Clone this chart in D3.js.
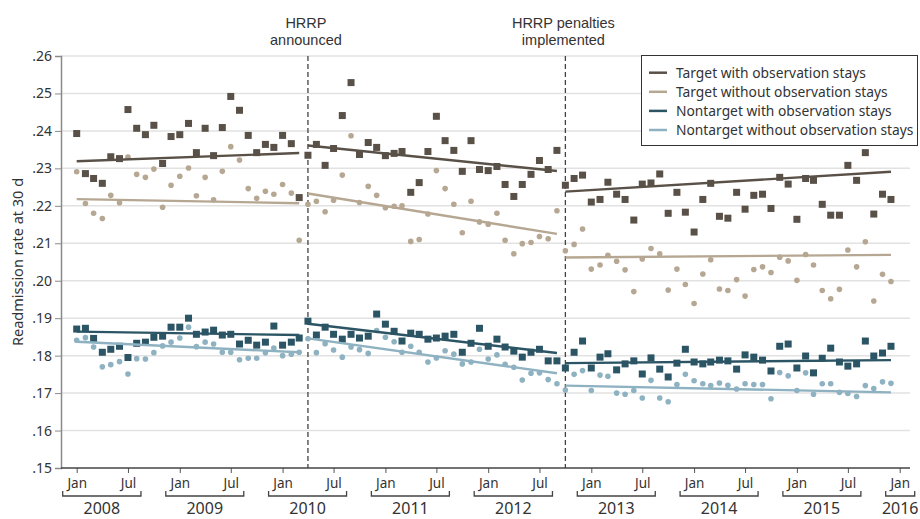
<!DOCTYPE html>
<html>
<head>
<meta charset="utf-8">
<script src="https://cdn.jsdelivr.net/npm/d3@7"></script>
<style>
  body { margin: 0; background: white; }
  text { font-family: "Noto Sans", "Liberation Sans", Arial, sans-serif; fill: #333; }
</style>
</head>
<body>
<div id="viz-container"></div>
<script>
let w = 920;
let h = 519;

// monthly rates, Jan 2008 .. Dec 2015
let targetWith = [
  .2393,.2286,.2273,.2260,.2331,.2326,.2457,.2407,.2390,.2415,.2313,.2385,.2390,.2420,.2342,.2407,.2334,.2409,.2492,.2455,.2388,.2342,.2364,.2356,.2388,.2366,.2222,
  .2335,.2364,.2308,.2353,.2441,.2529,.2337,.2369,.2356,.2334,.2340,.2345,.2236,.2262,.2345,.2439,.2374,.2348,.2292,.2374,.2297,.2294,.2305,.2257,.2225,.2257,.2284,.2321,.2297,.2348,
  .2255,.2273,.2282,.2210,.2217,.2263,.2231,.2217,.2162,.2258,.2261,.2285,.2180,.2236,.2183,.2130,.2217,.2260,.2172,.2167,.2236,.2191,.2228,.2231,.2193,.2276,.2258,.2164,.2273,.2268,.2204,.2175,.2175,.2308,.2268,.2342,.2178,.2231,.2217
];
let targetWithout = [
  .2291,.2206,.2180,.2166,.2228,.2208,.2330,.2284,.2276,.2298,.2196,.2255,.2279,.2301,.2227,.2276,.2216,.2292,.2358,.2322,.2246,.2220,.2239,.2231,.2257,.2234,.2108,
  .2204,.2212,.2184,.2215,.2282,.2387,.2209,.2252,.2228,.2195,.2199,.2200,.2105,.2110,.2178,.2294,.2246,.2204,.2128,.2212,.2157,.2151,.2180,.2108,.2072,.2099,.2102,.2118,.2112,.2187,
  .2080,.2097,.2138,.2031,.2042,.2068,.2052,.2029,.1971,.2058,.2086,.2072,.1975,.2031,.1990,.1939,.2018,.2056,.1978,.1974,.2003,.1959,.2030,.2037,.2022,.2063,.2053,.2001,.2070,.2042,.1974,.1952,.1977,.2082,.2037,.2104,.1946,.2017,.1998
];
let nontargetWith = [
  .1871,.1873,.1846,.1809,.1817,.1825,.1795,.1833,.1836,.1849,.1852,.1876,.1876,.1900,.1857,.1863,.1868,.1855,.1857,.1831,.1841,.1828,.1836,.1879,.1828,.1836,.1847,
  .1892,.1855,.1876,.1857,.1844,.1857,.1847,.1852,.1911,.1884,.1865,.1839,.1860,.1857,.1844,.1847,.1852,.1857,.1809,.1833,.1873,.1825,.1844,.1823,.1812,.1796,.1809,.1817,.1786,.1786,
  .1767,.1809,.1839,.1767,.1796,.1805,.1762,.1778,.1786,.1751,.1794,.1764,.1743,.1780,.1817,.1783,.1778,.1783,.1788,.1786,.1764,.1802,.1796,.1788,.1759,.1825,.1831,.1767,.1799,.1754,.1793,.1820,.1783,.1772,.1778,.1839,.1799,.1807,.1825
];
let nontargetWithout = [
  .1841,.1848,.1823,.1770,.1776,.1784,.1751,.1792,.1791,.1808,.1826,.1836,.1847,.1876,.1824,.1836,.1831,.1809,.1809,.1789,.1793,.1793,.1808,.1820,.1800,.1804,.1809,
  .1845,.1808,.1832,.1815,.1796,.1823,.1816,.1806,.1867,.1849,.1837,.1809,.1825,.1809,.1783,.1794,.1813,.1804,.1778,.1783,.1817,.1791,.1802,.1777,.1769,.1735,.1753,.1754,.1736,.1725,
  .1708,.1750,.1760,.1707,.1748,.1745,.1700,.1697,.1707,.1687,.1734,.1687,.1677,.1723,.1750,.1733,.1725,.1720,.1727,.1721,.1711,.1725,.1723,.1723,.1685,.1755,.1746,.1707,.1754,.1697,.1725,.1725,.1702,.1699,.1691,.1720,.1712,.1730,.1726
];

// fitted trend lines: [start, end] value for each period
let targetWithTrend = [[.2319,.2341],[.2361,.2293],[.2238,.2291]];
let targetWithoutTrend = [[.2218,.2207],[.2233,.2125],[.2062,.2069]];
let nontargetWithTrend = [[.1864,.1855],[.1885,.1807],[.1780,.1788]];
let nontargetWithoutTrend = [[.1837,.1809],[.1846,.1753],[.1720,.1702]];

// periods: first and last month of each segment
let periods = [["2008-01","2010-03"],["2010-04","2012-09"],["2012-10","2015-12"]];
let events = [
  {date: "2010-04", lines: ["HRRP", "announced"]},
  {date: "2012-10", lines: ["HRRP penalties", "implemented"]}
];

let seriesNames = ["Target with observation stays","Target without observation stays","Nontarget with observation stays","Nontarget without observation stays"];
let yTicks = [.15,.16,.17,.18,.19,.20,.21,.22,.23,.24,.25,.26];
let years = [2008,2009,2010,2011,2012,2013,2014,2015,2016];

let parseMonth = d3.timeParse("%Y-%m");
let months = d3.timeMonth.range(new Date(2008,0,1), new Date(2016,0,1));
console.log("months", months.length, targetWith.length, targetWithout.length, nontargetWith.length, nontargetWithout.length);

let series = [
  {name: seriesNames[0], values: targetWith, trend: targetWithTrend, color: "#595047", lineColor: "#595047", shape: "square"},
  {name: seriesNames[1], values: targetWithout, trend: targetWithoutTrend, color: "#b6a792", lineColor: "#b6a792", shape: "dot"},
  {name: seriesNames[2], values: nontargetWith, trend: nontargetWithTrend, color: "#2b5464", lineColor: "#2b5464", shape: "square"},
  {name: seriesNames[3], values: nontargetWithout, trend: nontargetWithoutTrend, color: "#8eb2c1", lineColor: "#8eb2c1", shape: "dot"}
];

let plotLeft = 61, plotRight = 910, plotTop = 56, plotBottom = 468;
let font = "'Noto Sans', 'Liberation Sans', Arial, sans-serif";

let x = d3.scaleTime()
  .domain([new Date(2008,0,1), new Date(2016,0,1)])
  .range([76.7, 899.7]);
let y = d3.scaleLinear()
  .domain([.15, .26])
  .range([plotBottom, plotTop]);

let viz = d3.select("#viz-container")
  .append("svg")
    .attr("width", w)
    .attr("height", h)
    .style("background-color", "white");

// gridlines
viz.append("g")
  .selectAll("line")
  .data(yTicks.slice(1))
  .enter()
  .append("line")
    .attr("x1", plotLeft)
    .attr("x2", plotRight)
    .attr("y1", d => y(d))
    .attr("y2", d => y(d))
    .attr("stroke", "#e2e2e2")
    .attr("stroke-width", 1.5);

// y axis
let yAxis = d3.axisLeft(y)
  .tickValues(yTicks)
  .tickSize(6)
  .tickPadding(3)
  .tickFormat(d => d3.format(".2f")(d).replace(/^0/, ""));
let yAxisGroup = viz.append("g")
  .attr("transform", "translate(" + plotLeft + ",0)")
  .call(yAxis);
yAxisGroup.select(".domain").attr("stroke", "#8a8a8a").attr("stroke-width", 1.5);
yAxisGroup.selectAll(".tick line").attr("stroke", "#8a8a8a");
yAxisGroup.selectAll("text")
  .style("font-size", "14px")
  .style("font-family", font)
  .attr("fill", "#333");

viz.append("text")
  .attr("transform", "translate(23," + ((plotTop + plotBottom) / 2) + ") rotate(-90)")
  .attr("text-anchor", "middle")
  .style("font-size", "14.5px")
  .text("Readmission rate at 30 d");

// x axis
let xTickDates = d3.timeMonth.every(6).range(new Date(2008,0,1), new Date(2016,0,2));
let xAxis = d3.axisBottom(x)
  .tickValues(xTickDates)
  .tickSize(5)
  .tickPadding(5)
  .tickFormat(d3.timeFormat("%b"));
let xAxisGroup = viz.append("g")
  .attr("transform", "translate(0," + plotBottom + ")")
  .call(xAxis);
xAxisGroup.select(".domain").remove();
xAxisGroup.selectAll(".tick line").attr("stroke", "#555");
xAxisGroup.selectAll("text")
  .style("font-size", "13.5px")
  .style("font-family", font)
  .attr("fill", "#333");
viz.append("line")
  .attr("x1", plotLeft)
  .attr("x2", plotRight)
  .attr("y1", plotBottom)
  .attr("y2", plotBottom)
  .attr("stroke", "#444")
  .attr("stroke-width", 1.5);

// year brackets
let yearGroups = viz.append("g").selectAll("g")
  .data(years)
  .enter()
  .append("g");

function bracketStart(yr){
  return x(new Date(yr,0,1)) - 14;
}
function bracketEnd(yr){
  if (yr == 2016) return x(new Date(yr,0,1)) + 15;
  return x(new Date(yr,6,1)) + 13;
}
yearGroups.append("path")
  .attr("d", d => "M" + bracketStart(d) + ",491 V496 H" + bracketEnd(d) + " V491")
  .attr("fill", "none")
  .attr("stroke", "#444")
  .attr("stroke-width", 1.3);
yearGroups.append("text")
  .attr("x", d => (bracketStart(d) + bracketEnd(d)) / 2)
  .attr("y", 514)
  .attr("text-anchor", "middle")
  .style("font-size", "16px")
  .text(d => d);

// event lines
let eventGroups = viz.append("g").selectAll("g")
  .data(events)
  .enter()
  .append("g");
eventGroups.append("line")
  .attr("x1", d => x(parseMonth(d.date)))
  .attr("x2", d => x(parseMonth(d.date)))
  .attr("y1", plotTop)
  .attr("y2", plotBottom)
  .attr("stroke", "#444")
  .attr("stroke-width", 1.3)
  .attr("stroke-dasharray", "5,3");
eventGroups.selectAll("text")
  .data(d => d.lines.map((t, i) => ({t: t, i: i, date: d.date})))
  .enter()
  .append("text")
    .attr("x", d => x(parseMonth(d.date)) - 2)
    .attr("y", d => 28 + d.i * 16.8)
    .attr("text-anchor", "middle")
    .style("font-family", "'Liberation Sans', Arial, sans-serif")
    .style("font-size", "14.5px")
    .text(d => d.t);

// trend lines
function trendSegments(s){
  return periods.map((p, i) => ({
    x1: x(parseMonth(p[0])), x2: x(parseMonth(p[1])),
    y1: y(s.trend[i][0]), y2: y(s.trend[i][1]),
    color: s.lineColor
  }));
}

// points
series.forEach(function(s){
  let g = viz.append("g");
  let pts = s.values.map((v, i) => ({date: months[i], value: v}));
  if (s.shape == "square"){
    g.selectAll("rect")
      .data(pts)
      .enter()
      .append("rect")
        .attr("x", d => x(d.date) - 3.5)
        .attr("y", d => y(d.value) - 3.5)
        .attr("width", 7)
        .attr("height", 7)
        .attr("fill", s.color);
  } else {
    g.selectAll("circle")
      .data(pts)
      .enter()
      .append("circle")
        .attr("cx", d => x(d.date))
        .attr("cy", d => y(d.value))
        .attr("r", 2.8)
        .attr("fill", s.color);
  }
});

series.forEach(function(s){
  viz.append("g").selectAll("line")
    .data(trendSegments(s))
    .enter()
    .append("line")
      .attr("x1", d => d.x1)
      .attr("x2", d => d.x2)
      .attr("y1", d => d.y1)
      .attr("y2", d => d.y2)
      .attr("stroke", d => d.color)
      .attr("stroke-width", 2.4);
});

// legend
let legend = viz.append("g");
legend.append("rect")
  .attr("x", 641.5)
  .attr("y", 55.5)
  .attr("width", 276)
  .attr("height", 90)
  .attr("fill", "white")
  .attr("stroke", "#333")
  .attr("stroke-width", 1);
let legendItems = legend.selectAll(".item")
  .data(series)
  .enter()
  .append("g")
    .attr("class", "item")
    .attr("transform", (d, i) => "translate(649," + (72.7 + i * 19.1) + ")");
legendItems.append("line")
  .attr("x1", 0)
  .attr("x2", 18)
  .attr("stroke", d => d.lineColor)
  .attr("stroke-width", 2.5);
legendItems.append("text")
  .attr("x", 27)
  .attr("y", 5)
  .style("font-size", "13.8px")
  .text(d => d.name);
</script>
</body>
</html>
